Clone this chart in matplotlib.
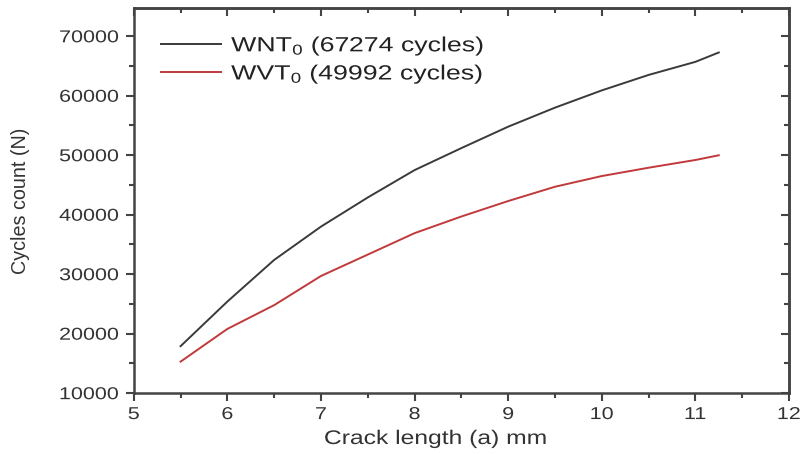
import matplotlib
matplotlib.use("Agg")
import matplotlib.pyplot as plt
from matplotlib.ticker import MultipleLocator, NullFormatter
from matplotlib.patheffects import AbstractPathEffect
from matplotlib.transforms import Affine2D

plt.rcParams['font.family'] = ['Liberation Sans', 'DejaVu Sans']
plt.rcParams['mathtext.fontset'] = 'custom'
plt.rcParams['mathtext.rm'] = 'Liberation Sans'
plt.rcParams['mathtext.it'] = 'Liberation Sans'

crack_length = [5.5, 6.0, 6.5, 7.0, 7.5, 8.0, 8.5, 9.0, 9.5, 10.0, 10.5, 11.0, 11.25]
wnt_cycles = [17900, 25400, 32400, 38000, 42900, 47500, 51200, 54800, 58000, 60900, 63500, 65700, 67274]
wvt_cycles = [15300, 20800, 24800, 29700, 33300, 36900, 39700, 42300, 44700, 46500, 47900, 49200, 49992]
labels = ["WNT$_0$ (67274 cycles)", "WVT$_0$ (49992 cycles)"]
x_ticks = [5, 6, 7, 8, 9, 10, 11, 12]
y_ticks = [10000, 20000, 30000, 40000, 50000, 60000, 70000]


class Stretch(AbstractPathEffect):
    """Widen text horizontally (along its baseline) about an anchor."""
    def __init__(self, sx, anchor='center'):
        super().__init__()
        self.sx = sx
        self.anchor = anchor

    def draw_path(self, renderer, gc, tpath, affine, rgbFace=None):
        ext = tpath.get_extents()
        if self.anchor == 'left':
            x0 = ext.x0
        elif self.anchor == 'right':
            x0 = ext.x1
        else:
            x0 = 0.5 * (ext.x0 + ext.x1)
        st = Affine2D().translate(-x0, 0).scale(self.sx, 1).translate(x0, 0)
        renderer.draw_path(gc, tpath, st + affine, rgbFace)


TEXT = '#333333'
AXC = '#444444'

fig = plt.figure(figsize=(8.01, 4.54), dpi=100)
ax = fig.add_axes([0.167, 0.134, 0.818, 0.849])

ax.plot(crack_length, wnt_cycles, color='#3a3a3a', lw=1.4, label=labels[0])
ax.plot(crack_length, wvt_cycles, color='#c0393b', lw=1.4, label=labels[1])

ax.set_xlim(5, 12)
ax.set_ylim(10000, 74800)
ax.set_xticks(x_ticks)
ax.set_yticks(y_ticks)
ax.xaxis.set_minor_locator(MultipleLocator(0.5))
ax.yaxis.set_minor_locator(MultipleLocator(5000))

ax.tick_params(which='both', direction='out', colors=AXC, labelcolor=TEXT,
               labelsize=12.4, width=1.5)
ax.tick_params(which='major', length=6)
ax.tick_params(which='minor', length=3.5)
ax.tick_params(axis='x', which='major', pad=4)
ax.tick_params(axis='y', which='major', pad=5)
for s in ax.spines.values():
    s.set_linewidth(1.8)
    s.set_color(AXC)

# mirrored inward ticks on top and right
top = ax.secondary_xaxis('top')
top.set_xticks(x_ticks)
top.xaxis.set_minor_locator(MultipleLocator(0.5))
top.xaxis.set_major_formatter(NullFormatter())
top.tick_params(which='both', direction='in', colors=AXC, width=1.5)
top.tick_params(which='major', length=6)
top.tick_params(which='minor', length=3.5)
top.spines['top'].set_linewidth(1.8)
top.spines['top'].set_color(AXC)

right = ax.secondary_yaxis('right')
right.set_yticks(y_ticks)
right.yaxis.set_minor_locator(MultipleLocator(5000))
right.yaxis.set_major_formatter(NullFormatter())
right.tick_params(which='both', direction='in', colors=AXC, width=1.5)
right.tick_params(which='major', length=6)
right.tick_params(which='minor', length=3.5)
right.spines['right'].set_linewidth(1.8)
right.spines['right'].set_color(AXC)

for lbl in ax.get_xticklabels():
    lbl.set_path_effects([Stretch(1.25, 'center')])
for lbl in ax.get_yticklabels():
    lbl.set_path_effects([Stretch(1.25, 'right')])

xl = ax.set_xlabel('Crack length (a) mm', fontsize=14.2, color=TEXT)
xl.set_path_effects([Stretch(1.25, 'center')])
ax.xaxis.set_label_coords(0.461, -0.093)
ax.xaxis.label.set_va('top')

ax.set_ylabel('Cycles count (N)', fontsize=14.2, color=TEXT)
ax.yaxis.set_label_coords(-0.158, 0.5)

leg = ax.legend(loc='upper left', frameon=False, fontsize=14.8, handlelength=2.9,
                handletextpad=0.5, labelspacing=0.25, bbox_to_anchor=(0.02, 0.968),
                borderaxespad=0.3)
for t in leg.get_texts():
    t.set_color('#222222')
    t.set_path_effects([Stretch(1.3, 'left')])

fig.savefig('out.png', dpi=100)
